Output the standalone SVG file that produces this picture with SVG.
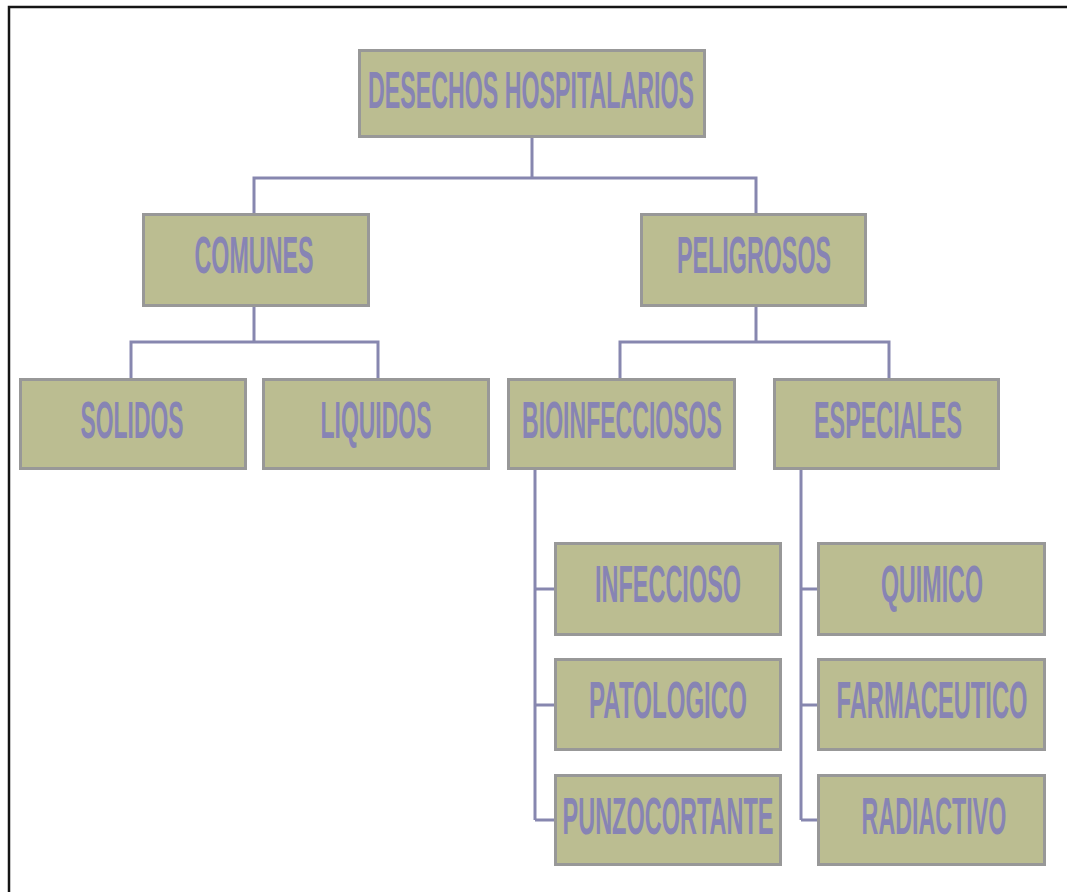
<svg xmlns="http://www.w3.org/2000/svg" width="1067" height="892" viewBox="0 0 1067 892">
<style>
.box{fill:#BBBD91;stroke:#989898;stroke-width:3}
.lbl{font-family:"Liberation Sans",Arial,sans-serif;font-size:52px;font-weight:bold;fill:#8784B4;text-anchor:middle}
.con{fill:none;stroke:#8787AF;stroke-width:3}
</style>
<rect width="1067" height="892" fill="#ffffff"/>
<path d="M9 892 V7 H1067" fill="none" stroke="#151515" stroke-width="2.5"/>
<g id="connectors">
<path class="con" d="M532 138 V178 M254 213 V178 H756 V213"/>
<path class="con" d="M254 307 V342 M131 378 V342 H378 V378"/>
<path class="con" d="M756 307 V342 M620 378 V342 H889 V378"/>
<path class="con" d="M535 470 V820 M535 589 H554 M535 705 H554 M535 820 H554"/>
<path class="con" d="M801 470 V820 M801 589 H817 M801 705 H817 M801 820 H817"/>
</g>
<g id="n-desechos"><rect class="box" x="359.5" y="50.5" width="345" height="86"/><text class="lbl" transform="translate(531 108) scale(0.447 1)" textLength="729" lengthAdjust="spacingAndGlyphs">DESECHOS HOSPITALARIOS</text></g>
<g id="n-comunes"><rect class="box" x="143.5" y="214.5" width="225" height="91"/><text class="lbl" transform="translate(254 273) scale(0.447 1)" textLength="266" lengthAdjust="spacingAndGlyphs">COMUNES</text></g>
<g id="n-peligrosos"><rect class="box" x="641.5" y="214.5" width="224" height="91"/><text class="lbl" transform="translate(754 273) scale(0.447 1)" textLength="345" lengthAdjust="spacingAndGlyphs">PELIGROSOS</text></g>
<g id="n-solidos"><rect class="box" x="20.5" y="379.5" width="225" height="89"/><text class="lbl" transform="translate(132 438) scale(0.447 1)" textLength="230" lengthAdjust="spacingAndGlyphs">SOLIDOS</text></g>
<g id="n-liquidos"><rect class="box" x="263.5" y="379.5" width="225" height="89"/><text class="lbl" transform="translate(376 438) scale(0.447 1)" textLength="248" lengthAdjust="spacingAndGlyphs">LIQUIDOS</text></g>
<g id="n-bioinfecciosos"><rect class="box" x="508.5" y="379.5" width="226" height="89"/><text class="lbl" transform="translate(622 438) scale(0.447 1)" textLength="447" lengthAdjust="spacingAndGlyphs">BIOINFECCIOSOS</text></g>
<g id="n-especiales"><rect class="box" x="774.5" y="379.5" width="224" height="89"/><text class="lbl" transform="translate(888 438) scale(0.447 1)" textLength="331" lengthAdjust="spacingAndGlyphs">ESPECIALES</text></g>
<g id="n-infeccioso"><rect class="box" x="555.5" y="543.5" width="225" height="91"/><text class="lbl" transform="translate(668 602) scale(0.447 1)" textLength="327" lengthAdjust="spacingAndGlyphs">INFECCIOSO</text></g>
<g id="n-patologico"><rect class="box" x="555.5" y="659.5" width="225" height="90"/><text class="lbl" transform="translate(668 718) scale(0.447 1)" textLength="353" lengthAdjust="spacingAndGlyphs">PATOLOGICO</text></g>
<g id="n-punzocortante"><rect class="box" x="555.5" y="775.5" width="225" height="89"/><text class="lbl" transform="translate(668 834) scale(0.447 1)" textLength="472" lengthAdjust="spacingAndGlyphs">PUNZOCORTANTE</text></g>
<g id="n-quimico"><rect class="box" x="818.5" y="543.5" width="226" height="91"/><text class="lbl" transform="translate(932 602) scale(0.447 1)" textLength="228" lengthAdjust="spacingAndGlyphs">QUIMICO</text></g>
<g id="n-farmaceutico"><rect class="box" x="818.5" y="659.5" width="226" height="90"/><text class="lbl" transform="translate(932 718) scale(0.447 1)" textLength="427" lengthAdjust="spacingAndGlyphs">FARMACEUTICO</text></g>
<g id="n-radiactivo"><rect class="box" x="818.5" y="775.5" width="226" height="89"/><text class="lbl" transform="translate(934 834) scale(0.447 1)" textLength="324" lengthAdjust="spacingAndGlyphs">RADIACTIVO</text></g>
</svg>
